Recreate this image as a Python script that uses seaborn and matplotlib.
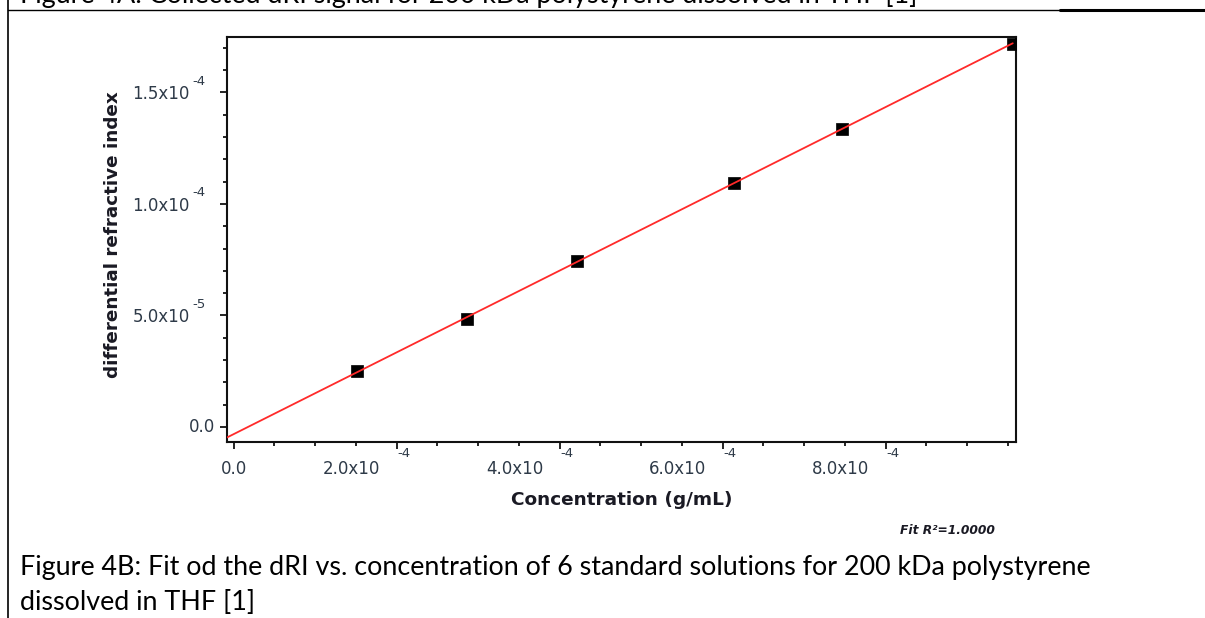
import numpy as np
import pandas as pd
import matplotlib
matplotlib.use("Agg")
import matplotlib.pyplot as plt
from matplotlib.lines import Line2D
from matplotlib.ticker import MultipleLocator
from matplotlib.transforms import ScaledTranslation, blended_transform_factory
import seaborn as sns

# ---- data ----
concentration = [1.52e-4, 2.86e-4, 4.21e-4, 6.14e-4, 7.46e-4, 9.56e-4]   # g/mL
dri = [2.51e-5, 4.83e-5, 7.43e-5, 1.092e-4, 1.338e-4, 1.719e-4]          # differential refractive index
x_ticks = [0.0, 2e-4, 4e-4, 6e-4, 8e-4]
x_mantissas = ["0.0", "2.0x10", "4.0x10", "6.0x10", "8.0x10"]
x_exponents = ["", "-4", "-4", "-4", "-4"]
y_ticks = [0.0, 5e-5, 1e-4, 1.5e-4]
y_mantissas = ["0.0", "5.0x10", "1.0x10", "1.5x10"]
y_exponents = ["", "-5", "-4", "-4"]
x_label = "Concentration (g/mL)"
y_label = "differential refractive index"
fit_text = "Fit R\u00b2=1.0000"
caption_lines = ["Figure 4B: Fit od the dRI vs. concentration of 6 standard solutions for 200 kDa polystyrene",
                 "dissolved in THF [1]"]
top_caption = "Figure 4A: Collected dRI signal for 200 kDa polystyrene dissolved in THF [1]"

sns.set_theme(style="ticks")
plt.rcParams["font.family"] = ["DejaVu Sans"]

W, H = 1205, 618
fig = plt.figure(figsize=(W / 100, H / 100), dpi=100)
fig.patch.set_facecolor("white")

ax_l, ax_r, ax_t, ax_b = 227, 1016, 37.3, 441.7
ax = fig.add_axes([ax_l / W, 1 - ax_b / H, (ax_r - ax_l) / W, (ax_b - ax_t) / H])
ax.set_facecolor("white")

df = pd.DataFrame({"conc": concentration, "dri": dri})
slope, intercept = np.polyfit(concentration, dri, 1)
xmin, xmax = -8e-6, 9.6e-4
ymin, ymax = -6.6e-6, 1.747e-4
fit_x = np.array([xmin, max(concentration)])
fit_df = pd.DataFrame({"conc": fit_x, "fit": slope * fit_x + intercept})

sns.scatterplot(data=df, x="conc", y="dri", marker="s", s=80, color="black",
                edgecolor="black", linewidth=0.5, ax=ax, zorder=3, legend=False)
sns.lineplot(data=fit_df, x="conc", y="fit", color="#ff2a2a", lw=1.3, ax=ax,
             zorder=4, legend=False)

ax.set_xlim(xmin, xmax)
ax.set_ylim(ymin, ymax)
ax.set_xlabel("")
ax.set_ylabel("")
ax.set_xticks(x_ticks)
ax.set_yticks(y_ticks)
ax.xaxis.set_minor_locator(MultipleLocator(5e-5))
ax.yaxis.set_minor_locator(MultipleLocator(1e-5))
ax.tick_params(which="major", length=5, width=1.2, color="black", direction="out",
               labelbottom=False, labelleft=False, top=False, right=False)
ax.tick_params(which="minor", length=2.8, width=1.2, color="black", direction="out",
               top=False, right=False)
for sp in ax.spines.values():
    sp.set_visible(True)
    sp.set_color("#111111")
    sp.set_linewidth(1.5)

def off(dx, dy):
    return ScaledTranslation(dx / 100, dy / 100, fig.dpi_scale_trans)

tick_color = "#2e3a48"
tick_fs = 12
exp_fs = 9.5
xt = blended_transform_factory(ax.transData, ax.transAxes)
for v, m, e in zip(x_ticks, x_mantissas, x_exponents):
    if e:
        ax.text(v, 0, m, transform=xt + off(-16, -18), ha="right", va="top",
                fontsize=tick_fs, color=tick_color)
        ax.text(v, 0, e, transform=xt + off(1, -5), ha="left", va="top",
                fontsize=exp_fs, color=tick_color)
    else:
        ax.text(v, 0, m, transform=xt + off(0, -18), ha="center", va="top",
                fontsize=tick_fs, color=tick_color)

yt = blended_transform_factory(ax.transAxes, ax.transData)
for v, m, e in zip(y_ticks, y_mantissas, y_exponents):
    if e:
        ax.text(0, v, m, transform=yt + off(-37, -2), ha="right", va="center",
                fontsize=tick_fs, color=tick_color)
        ax.text(0, v, e, transform=yt + off(-35, 11), ha="left", va="center",
                fontsize=exp_fs, color=tick_color)
    else:
        ax.text(0, v, m, transform=yt + off(-12, 0), ha="right", va="center",
                fontsize=tick_fs, color=tick_color)

fig.text(622 / W, 1 - 500 / H, x_label, ha="center", va="center", fontsize=13.3,
         fontweight="bold", color="#1a1a24")
fig.text(113 / W, 1 - 235 / H, y_label, ha="center", va="center", fontsize=13.2,
         fontweight="bold", rotation=90, color="#1a1a24")
fig.text(995 / W, 1 - 531 / H, fit_text, ha="right", va="center", fontsize=8.8,
         fontweight="bold", style="italic", color="#1a1a24")

for i, line in enumerate(caption_lines):
    fig.text(20 / W, 1 - (568 + 34 * i) / H, line, ha="left", va="center",
             fontsize=19.4, family="Lato", color="black")
fig.text(20 / W, 1 - 3 / H, top_caption, ha="left", va="baseline",
         fontsize=19.4, family="Lato", color="black")

# document table borders
fig.add_artist(Line2D([8 / W, 8 / W], [0, 1], transform=fig.transFigure,
                      color="black", lw=1.2))
fig.add_artist(Line2D([8 / W, 1], [1 - 9.5 / H, 1 - 9.5 / H], transform=fig.transFigure,
                      color="black", lw=1.0))
fig.add_artist(Line2D([1060 / W, 1], [1 - 9.5 / H, 1 - 9.5 / H], transform=fig.transFigure,
                      color="black", lw=2.2))

fig.savefig("out.png", dpi=100, facecolor="white")
